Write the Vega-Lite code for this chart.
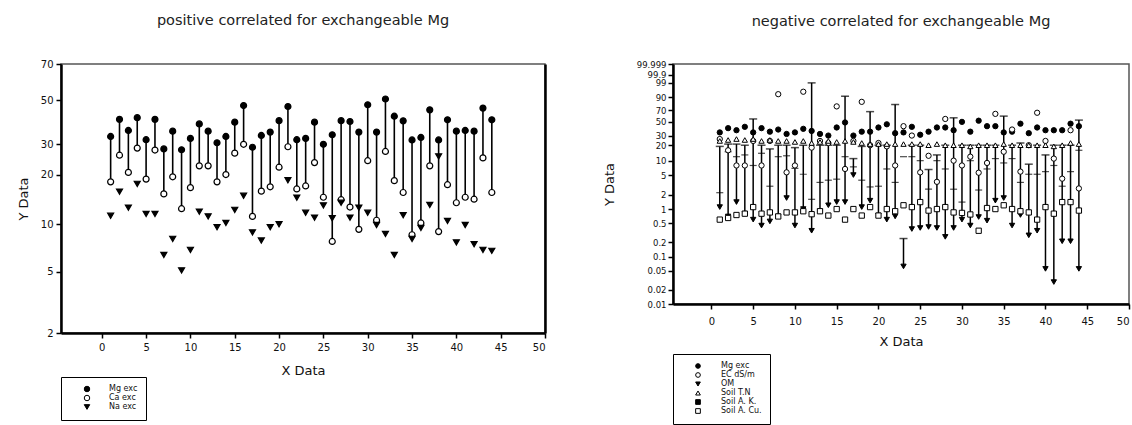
{
  "$schema": "https://vega.github.io/schema/vega-lite/v6.json",
  "padding": {"left": 16, "top": 11, "right": 0, "bottom": 0},
  "background": "white",
  "bounds": "flush",
  "spacing": 128,
  "resolve": {"scale": {"shape": "independent", "fill": "independent", "stroke": "independent"}},
  "config": {
    "font": "DejaVu Sans",
    "view": {"stroke": "#555", "strokeWidth": 1.5},
    "axis": {"grid": false, "domainColor": "black", "tickColor": "black", "labelColor": "#111", "titleColor": "#111", "labelFontSize": 10, "titleFontSize": 13, "titleFontWeight": "normal", "tickSize": 5, "tickWidth": 1.5, "domainWidth": 2.5, "labelFont": "DejaVu Sans", "titleFont": "DejaVu Sans", "labelOverlap": false},
    "title": {"font": "DejaVu Sans", "fontSize": 14.5, "fontWeight": "normal", "color": "#222", "anchor": "middle"},
    "legend": {"labelFont": "DejaVu Sans", "labelColor": "#111"}
  },
  "hconcat": [
    {
      "width": 484,
      "height": 269,
      "title": {"text": "positive correlated for exchangeable Mg", "offset": 31},
      "data": {"values": [
        {"x": 1, "mg": 33, "ca": 18.2, "na": 11.3},
        {"x": 2, "mg": 40.5, "ca": 26, "na": 15.9},
        {"x": 3, "mg": 35.5, "ca": 20.7, "na": 12.7},
        {"x": 4, "mg": 41.3, "ca": 28.5, "na": 17.7},
        {"x": 5, "mg": 31.7, "ca": 18.9, "na": 11.6},
        {"x": 6, "mg": 40.5, "ca": 27.8, "na": 11.6},
        {"x": 7, "mg": 28.2, "ca": 15.4, "na": 6.4},
        {"x": 8, "mg": 35.2, "ca": 19.5, "na": 8.1},
        {"x": 9, "mg": 27.9, "ca": 12.5, "na": 5.1},
        {"x": 10, "mg": 32.2, "ca": 16.8, "na": 6.9},
        {"x": 11, "mg": 38.4, "ca": 22.6, "na": 12.0},
        {"x": 12, "mg": 35.2, "ca": 22.6, "na": 11.2},
        {"x": 13, "mg": 30.5, "ca": 18.2, "na": 9.6},
        {"x": 14, "mg": 33, "ca": 20.1, "na": 10.2},
        {"x": 15, "mg": 39.2, "ca": 26.7, "na": 12.3},
        {"x": 16, "mg": 47.3, "ca": 29.9, "na": 15},
        {"x": 17, "mg": 28.8, "ca": 11.2, "na": 8.9},
        {"x": 18, "mg": 33.4, "ca": 16, "na": 7.9},
        {"x": 19, "mg": 34.8, "ca": 17, "na": 9.6},
        {"x": 20, "mg": 39.9, "ca": 22.2, "na": 10},
        {"x": 21, "mg": 46.8, "ca": 29, "na": 18.6},
        {"x": 22, "mg": 31.7, "ca": 16.5, "na": 14.6},
        {"x": 23, "mg": 32.2, "ca": 17.2, "na": 11.8},
        {"x": 24, "mg": 39.2, "ca": 23.6, "na": 11},
        {"x": 25, "mg": 29.9, "ca": 14.7, "na": 13.1},
        {"x": 26, "mg": 33.7, "ca": 7.8, "na": 10.9},
        {"x": 27, "mg": 39.9, "ca": 14.2, "na": 13.6},
        {"x": 28, "mg": 39.5, "ca": 12.8, "na": 11},
        {"x": 29, "mg": 34.8, "ca": 9.3, "na": 12.7},
        {"x": 30, "mg": 47.7, "ca": 24.2, "na": 11.8},
        {"x": 31, "mg": 34.8, "ca": 10.6, "na": 9.9},
        {"x": 32, "mg": 50.7, "ca": 27.3, "na": 8.7},
        {"x": 33, "mg": 42, "ca": 18.5, "na": 6.4},
        {"x": 34, "mg": 39.8, "ca": 15.7, "na": 11.4},
        {"x": 35, "mg": 31.6, "ca": 8.6, "na": 8.1},
        {"x": 36, "mg": 32.6, "ca": 10.2, "na": 9.5},
        {"x": 37, "mg": 45.1, "ca": 22.6, "na": 13.2},
        {"x": 38, "mg": 31.6, "ca": 9, "na": 25.6},
        {"x": 39, "mg": 40.3, "ca": 17.5, "na": 10.5},
        {"x": 40, "mg": 35.2, "ca": 13.6, "na": 7.7},
        {"x": 41, "mg": 35.5, "ca": 14.7, "na": 9.9},
        {"x": 42, "mg": 35.2, "ca": 14.3, "na": 7.5},
        {"x": 43, "mg": 46, "ca": 25.1, "na": 6.9},
        {"x": 44, "mg": 40.3, "ca": 15.7, "na": 6.8}
      ]},
      "resolve": {"axis": {"y": "independent"}},
      "layer": [
        {
          "transform": [
            {"calculate": "log(-log(1 - datum.mg / 100)) / LN10", "as": "w"},
            {"calculate": "log(-log(1 - datum.ca / 100)) / LN10", "as": "w2"}
          ],
          "mark": {"type": "rule", "color": "black", "strokeWidth": 1.6},
          "encoding": {
            "x": {"field": "x", "type": "quantitative", "scale": {"domain": [-4.6, 50], "nice": false, "zero": false},
                  "axis": {"values": [0, 5, 10, 15, 20, 25, 30, 35, 40, 45, 50], "title": "X Data", "labelPadding": 4, "titlePadding": 12}},
            "y": {"field": "w", "type": "quantitative", "scale": {"domain": [-1.6946, 0.08062], "nice": false, "zero": false},
                  "axis": {"values": [-1.6946, -1.28997, -0.97732, -0.65142, -0.44771, -0.15917, 0.08062],
                           "labelExpr": "format(100 * (1 - exp(-pow(10, datum.value))), '.0f')",
                           "title": "Y Data", "labelPadding": 3, "titlePadding": 10}},
            "y2": {"field": "w2"}
          }
        },
        {
          "transform": [
            {"fold": ["mg", "ca", "na"], "as": ["series", "value"]},
            {"calculate": "log(-log(1 - datum.value / 100)) / LN10", "as": "w"}
          ],
          "mark": {"type": "point", "filled": false, "strokeWidth": 1.2, "opacity": 1, "fillOpacity": 1, "strokeOpacity": 1, "size": 36},
          "encoding": {
            "x": {"field": "x", "type": "quantitative", "scale": {"domain": [-4.6, 50], "nice": false, "zero": false}},
            "y": {"field": "w", "type": "quantitative", "scale": {"domain": [-1.6946, 0.08062], "nice": false, "zero": false},
                  "axis": {"orient": "right", "labels": false, "ticks": false, "title": null, "domainWidth": 2.5}},
            "shape": {"field": "series", "type": "nominal",
                      "scale": {"domain": ["mg", "ca", "na"], "range": ["circle", "circle", "triangle-down"]},
                      "legend": {"title": null, "orient": "none", "legendX": 0, "legendY": 313, "strokeColor": "black", "padding": 8, "symbolOffset": 14, "labelOffset": 18, "labelFontSize": 8, "rowPadding": -1, "symbolSize": 30, "symbolStrokeWidth": 1,
                                 "labelExpr": "datum.label == 'mg' ? 'Mg exc' : datum.label == 'ca' ? 'Ca exc' : 'Na exc'"}},
            "fill": {"field": "series", "type": "nominal",
                     "scale": {"domain": ["mg", "ca", "na"], "range": ["black", "white", "black"]},
                     "legend": {"title": null, "orient": "none", "legendX": 0, "legendY": 313, "strokeColor": "black", "padding": 8, "symbolOffset": 14, "labelOffset": 18, "labelFontSize": 8, "rowPadding": -1, "symbolSize": 30, "symbolStrokeWidth": 1,
                                "labelExpr": "datum.label == 'mg' ? 'Mg exc' : datum.label == 'ca' ? 'Ca exc' : 'Na exc'"}},
            "stroke": {"field": "series", "type": "nominal",
                       "scale": {"domain": ["mg", "ca", "na"], "range": ["black", "black", "black"]},
                       "legend": {"title": null, "orient": "none", "legendX": 0, "legendY": 313, "strokeColor": "black", "padding": 8, "symbolOffset": 14, "labelOffset": 18, "labelFontSize": 8, "rowPadding": -1, "symbolSize": 30, "symbolStrokeWidth": 1,
                                  "labelExpr": "datum.label == 'mg' ? 'Mg exc' : datum.label == 'ca' ? 'Ca exc' : 'Na exc'"}}
          }
        }
      ]
    },
    {
      "width": 456,
      "height": 240,
      "title": {"text": "negative correlated for exchangeable Mg", "offset": 31},
      "data": {"values": [
        {"x": 1, "mg": 34, "ec": 26, "om": 1.1, "tn": 24, "ak": 2.2, "cu": 0.6, "hi": 19},
        {"x": 2, "mg": 40, "ec": 16, "om": 0.7, "tn": 25, "ak": 15, "cu": 0.65, "hi": 21},
        {"x": 3, "mg": 37, "ec": 8, "om": 1.4, "tn": 26, "ak": 12, "cu": 0.75, "hi": 21},
        {"x": 4, "mg": 42, "ec": 8, "om": 0.8, "tn": 25, "ak": 13, "cu": 0.8, "hi": 20},
        {"x": 5, "mg": 34, "ec": 24, "om": 0.6, "tn": 26, "ak": 8, "cu": 1.1, "hi": 55},
        {"x": 6, "mg": 40, "ec": 8, "om": 0.45, "tn": 24, "ak": 14, "cu": 0.8, "hi": 20},
        {"x": 7, "mg": 35, "ec": 24, "om": 0.55, "tn": 25, "ak": 3, "cu": 0.85, "hi": 17},
        {"x": 8, "mg": 38, "ec": 93, "om": 0.7, "tn": 24, "ak": 12, "cu": 0.7, "hi": 20},
        {"x": 9, "mg": 32, "ec": 5.8, "om": 1.7, "tn": 24, "ak": 12.5, "cu": 0.85, "hi": 20},
        {"x": 10, "mg": 34, "ec": 8, "om": 0.45, "tn": 23, "ak": 7, "cu": 0.85, "hi": 18},
        {"x": 11, "mg": 39, "ec": 95, "om": 1.0, "tn": 24, "ak": 5.3, "cu": 0.9, "hi": 20},
        {"x": 12, "mg": 36, "ec": 18, "om": 0.35, "tn": 22, "ak": 1.6, "cu": 0.78, "hi": 99},
        {"x": 13, "mg": 32, "ec": 24, "om": 0.9, "tn": 23, "ak": 3.6, "cu": 0.9, "hi": 20},
        {"x": 14, "mg": 30, "ec": 22, "om": 1.2, "tn": 24, "ak": 4, "cu": 0.73, "hi": 20},
        {"x": 15, "mg": 41, "ec": 77, "om": 1.4, "tn": 23, "ak": 4.2, "cu": 1.0, "hi": 20},
        {"x": 16, "mg": 49, "ec": 6.8, "om": 1.4, "tn": 24, "ak": 12, "cu": 0.6, "hi": 91},
        {"x": 17, "mg": 30, "ec": 24, "om": 5.1, "tn": 23, "ak": 7.5, "cu": 1.0, "hi": 11},
        {"x": 18, "mg": 35, "ec": 84, "om": 1.1, "tn": 22, "ak": 4, "cu": 0.73, "hi": 19},
        {"x": 19, "mg": 35, "ec": 20, "om": 1.5, "tn": 21, "ak": 2.9, "cu": 1.1, "hi": 68},
        {"x": 20, "mg": 41, "ec": 22, "om": 0.73, "tn": 21, "ak": 3, "cu": 0.73, "hi": 20},
        {"x": 21, "mg": 46, "ec": 19, "om": 0.6, "tn": 21, "ak": 6.8, "cu": 1.0, "hi": 20},
        {"x": 22, "mg": 33, "ec": 8, "om": 0.7, "tn": 21, "ak": 3.6, "cu": 0.9, "hi": 80},
        {"x": 23, "mg": 34, "ec": 43, "om": 0.062, "tn": 21, "ak": 12, "cu": 1.2, "hi": 0.24},
        {"x": 24, "mg": 42, "ec": 30, "om": 0.38, "tn": 21, "ak": 12, "cu": 1.1, "hi": 20},
        {"x": 25, "mg": 31, "ec": 5.8, "om": 0.4, "tn": 21, "ak": 10, "cu": 1.4, "hi": 20},
        {"x": 26, "mg": 35, "ec": 12.5, "om": 0.42, "tn": 20, "ak": 2.6, "cu": 0.93, "hi": 6.6},
        {"x": 27, "mg": 41, "ec": 3.7, "om": 0.4, "tn": 21, "ak": 10, "cu": 1.0, "hi": 13},
        {"x": 28, "mg": 41, "ec": 55, "om": 0.26, "tn": 20, "ak": 6.8, "cu": 1.1, "hi": 20},
        {"x": 29, "mg": 37, "ec": 10, "om": 0.4, "tn": 20, "ak": 2.6, "cu": 0.85, "hi": 57},
        {"x": 30, "mg": 50, "ec": 8, "om": 0.6, "tn": 20, "ak": 1.4, "cu": 0.83, "hi": 20},
        {"x": 31, "mg": 35, "ec": 12, "om": 0.45, "tn": 19, "ak": 10, "cu": 0.77, "hi": 20},
        {"x": 32, "mg": 52, "ec": 5.7, "om": 0.68, "tn": 20, "ak": 2.5, "cu": 0.35, "hi": 20},
        {"x": 33, "mg": 43, "ec": 9, "om": 0.57, "tn": 20, "ak": 6.8, "cu": 1.05, "hi": 20},
        {"x": 34, "mg": 43, "ec": 64, "om": 1.5, "tn": 20, "ak": 11, "cu": 1.0, "hi": 20},
        {"x": 35, "mg": 34, "ec": 15, "om": 1.7, "tn": 21, "ak": 9, "cu": 1.2, "hi": 60},
        {"x": 36, "mg": 35, "ec": 38, "om": 0.45, "tn": 20, "ak": 11, "cu": 1.0, "hi": 20},
        {"x": 37, "mg": 47, "ec": 6, "om": 0.75, "tn": 20, "ak": 3.6, "cu": 0.9, "hi": 22},
        {"x": 38, "mg": 33, "ec": 20, "om": 0.28, "tn": 20, "ak": 5.3, "cu": 0.85, "hi": 8.5},
        {"x": 39, "mg": 41, "ec": 66, "om": 0.35, "tn": 20, "ak": 5.3, "cu": 0.6, "hi": 20},
        {"x": 40, "mg": 37, "ec": 24, "om": 0.055, "tn": 20, "ak": 6, "cu": 1.1, "hi": 13},
        {"x": 41, "mg": 37, "ec": 11, "om": 0.029, "tn": 19, "ak": 8, "cu": 0.8, "hi": 20},
        {"x": 42, "mg": 37, "ec": 4.3, "om": 0.21, "tn": 20, "ak": 3, "cu": 1.4, "hi": 20},
        {"x": 43, "mg": 47, "ec": 37, "om": 0.21, "tn": 22, "ak": 6, "cu": 1.4, "hi": 20},
        {"x": 44, "mg": 43, "ec": 2.7, "om": 0.055, "tn": 21, "ak": 16, "cu": 0.93, "hi": 53}
      ]},
      "encoding": {
        "x": {"field": "x", "type": "quantitative", "scale": {"domain": [-4.6, 50], "nice": false, "zero": false},
              "axis": {"values": [0, 5, 10, 15, 20, 25, 30, 35, 40, 45, 50], "title": "X Data", "labelPadding": 7, "titlePadding": 9}},
        "y": {"field": "w", "type": "quantitative", "scale": {"domain": [-3.99998, 1.06119], "nice": false, "zero": false},
              "axis": {"values": [-3.99998, -3.69893, -3.30092, -2.99978, -2.69854, -2.29994, -1.99781, -1.6946, -1.28997, -0.97732, -0.65142, -0.44771, -0.15917, 0.08062, 0.36221, 0.66325, 0.83933, 1.06119],
                       "labelExpr": "datum.value < -2.1 ? format(100 * (1 - exp(-pow(10, datum.value))), '.2~f') : datum.value > 0.7 ? format(100 * (1 - exp(-pow(10, datum.value))), '.3~f') : format(100 * (1 - exp(-pow(10, datum.value))), '.0f')",
                       "labelFontSize": 8.5, "title": "Y Data", "labelPadding": 2, "titlePadding": 20}}
      },
      "layer": [
        {
          "transform": [
            {"calculate": "log(-log(1 - datum.hi / 100)) / LN10", "as": "w"},
            {"calculate": "log(-log(1 - datum.om / 100)) / LN10", "as": "w2"}
          ],
          "mark": {"type": "rule", "color": "black", "strokeWidth": 1.5},
          "encoding": {"y2": {"field": "w2"}}
        },
        {
          "transform": [{"calculate": "log(-log(1 - datum.hi / 100)) / LN10", "as": "w"}],
          "mark": {"type": "tick", "orient": "horizontal", "color": "black", "size": 8, "thickness": 1.5}
        },
        {
          "transform": [{"calculate": "log(-log(1 - datum.ak / 100)) / LN10", "as": "w"}],
          "mark": {"type": "tick", "orient": "horizontal", "color": "black", "size": 7, "thickness": 1.2}
        },
        {
          "transform": [
            {"fold": ["mg", "ec", "om", "tn", "cu"], "as": ["series", "value"]},
            {"calculate": "log(-log(1 - datum.value / 100)) / LN10", "as": "w"}
          ],
          "mark": {"type": "point", "filled": false, "strokeWidth": 1, "opacity": 1, "fillOpacity": 1, "strokeOpacity": 1, "size": 28},
          "encoding": {
            "shape": {"field": "series", "type": "nominal",
                      "scale": {"domain": ["mg", "ec", "om", "tn", "ak", "cu"], "range": ["circle", "circle", "triangle-down", "triangle-up", "square", "square"]},
                      "legend": {"title": null, "orient": "none", "legendX": 0, "legendY": 290, "strokeColor": "black", "padding": 8, "symbolOffset": 13, "labelOffset": 19, "labelFontSize": 8, "rowPadding": -1.5, "symbolSize": 22, "symbolStrokeWidth": 1,
                                 "labelExpr": "datum.label == 'mg' ? 'Mg exc' : datum.label == 'ec' ? 'EC  dS/m' : datum.label == 'om' ? 'OM' : datum.label == 'tn' ? 'Soil T.N' : datum.label == 'ak' ? 'Soil A. K.' : 'Soil A. Cu.'"}},
            "fill": {"field": "series", "type": "nominal",
                     "scale": {"domain": ["mg", "ec", "om", "tn", "ak", "cu"], "range": ["black", "white", "black", "white", "black", "white"]},
                     "legend": {"title": null, "orient": "none", "legendX": 0, "legendY": 290, "strokeColor": "black", "padding": 8, "symbolOffset": 13, "labelOffset": 19, "labelFontSize": 8, "rowPadding": -1.5, "symbolSize": 22, "symbolStrokeWidth": 1,
                                "labelExpr": "datum.label == 'mg' ? 'Mg exc' : datum.label == 'ec' ? 'EC  dS/m' : datum.label == 'om' ? 'OM' : datum.label == 'tn' ? 'Soil T.N' : datum.label == 'ak' ? 'Soil A. K.' : 'Soil A. Cu.'"}},
            "stroke": {"field": "series", "type": "nominal",
                       "scale": {"domain": ["mg", "ec", "om", "tn", "ak", "cu"], "range": ["black", "black", "black", "black", "black", "black"]},
                       "legend": {"title": null, "orient": "none", "legendX": 0, "legendY": 290, "strokeColor": "black", "padding": 8, "symbolOffset": 13, "labelOffset": 19, "labelFontSize": 8, "rowPadding": -1.5, "symbolSize": 22, "symbolStrokeWidth": 1,
                                  "labelExpr": "datum.label == 'mg' ? 'Mg exc' : datum.label == 'ec' ? 'EC  dS/m' : datum.label == 'om' ? 'OM' : datum.label == 'tn' ? 'Soil T.N' : datum.label == 'ak' ? 'Soil A. K.' : 'Soil A. Cu.'"}}
          }
        }
      ]
    }
  ]
}
